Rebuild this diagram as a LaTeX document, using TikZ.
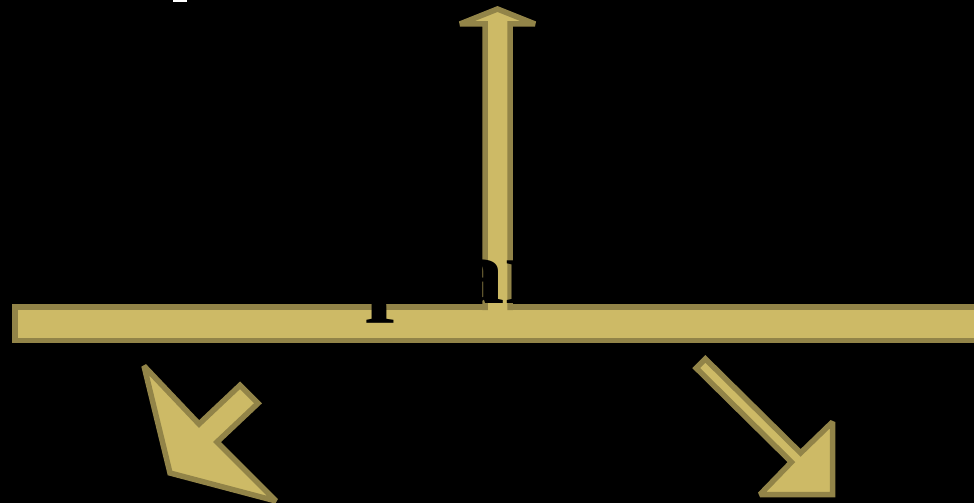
\documentclass[tikz,border=0pt]{standalone}
\usepackage{fontspec}
\setmainfont{Liberation Serif}
\usepackage{xcolor}
\definecolor{goldfill}{RGB}{205,186,102}
\definecolor{goldline}{RGB}{146,132,72}
\begin{document}
\begin{tikzpicture}[x=1pt, y=-1pt,
    goldshape/.style={fill=goldfill, draw=goldline, line width=5.5pt, miter limit=2}]
    \useasboundingbox (0,0) rectangle (974,503);
    \clip (0,0) rectangle (974,503);
    \fill[black] (0,0) rectangle (974,503);
    \fill[white] (173.3,0) rectangle (186.7,2);
    \draw[goldshape] (14.75,307) rectangle (1000,340.5);
    \fill[goldfill] (485,311) -- (485,24) -- (460,24) -- (497.5,9) -- (535,24) -- (510,24) -- (510,311) -- cycle;
    \draw[goldline, line width=5.5pt, miter limit=2] (485,310) -- (485,24) -- (460,24) -- (497.5,9) -- (535,24) -- (510,24) -- (510,310);
    \draw[goldshape] (240,385.3) -- (199,424) -- (144,366) -- (170,473) -- (276,501) -- (217,442) -- (258,403.3) -- cycle;
    \draw[goldshape] (705.4,358.9) -- (800.6,452.9) -- (832.5,422) -- (832.5,494.5) -- (760,494.5) -- (791.4,462.1) -- (696.2,368.1) -- cycle;
    \node[anchor=base west, inner sep=0pt, text=black, font=\fontsize{93}{100}\selectfont\bfseries] (lbl) at (179,303) {\scalebox{1.126}[1]{complanar}};
\end{tikzpicture}
\end{document}
